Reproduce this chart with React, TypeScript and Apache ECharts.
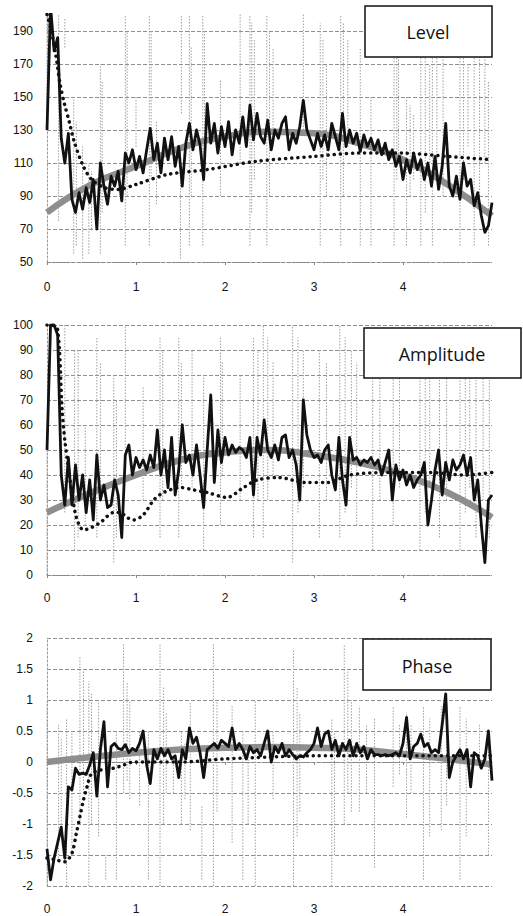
import React, { useEffect, useRef } from "react";
import * as echarts from "echarts";

const X_MAX = 5;
const X_LABELS = ["0", "1", "2", "3", "4"];

// Level panel
const levelNoisy = [130, 205, 178, 186, 125, 110, 128, 88, 80, 92, 82, 95, 86, 100, 70, 110, 96, 85, 102, 96, 105, 87, 116, 110, 118, 106, 114, 104, 118, 131, 112, 122, 104, 125, 112, 126, 108, 120, 96, 122, 134, 118, 130, 121, 100, 146, 122, 134, 116, 132, 120, 135, 115, 130, 122, 138, 120, 145, 124, 140, 126, 122, 136, 118, 130, 125, 134, 138, 118, 128, 122, 132, 148, 130, 124, 118, 128, 120, 127, 118, 134, 126, 118, 140, 120, 130, 122, 128, 117, 127, 120, 125, 118, 124, 115, 122, 112, 118, 108, 114, 100, 112, 104, 116, 106, 112, 100, 110, 96, 114, 94, 108, 134, 96, 90, 102, 88, 110, 96, 100, 84, 92, 78, 68, 72, 86];
const levelRawX = [0, 0.02, 0.13, 0.2, 0.3, 0.33, 0.4, 0.47, 0.5, 0.6, 0.62, 0.88, 0.9, 1.0, 1.15, 1.17, 1.23, 1.5, 1.51, 1.6, 1.62, 1.75, 1.77, 1.95, 2.17, 2.28, 2.3, 2.33, 2.47, 2.5, 2.54, 2.88, 3.07, 3.1, 3.14, 3.3, 3.33, 3.38, 3.52, 3.64, 3.9, 3.93, 3.95, 4.04, 4.08, 4.12, 4.2, 4.25, 4.3, 4.33, 4.38, 4.45, 4.64, 4.68, 4.73, 4.8, 4.86, 4.92, 4.96];
const levelRawLow = [130, 150, 75, 180, 55, 60, 52, 55, 70, 55, 80, 60, 90, 120, 60, 100, 85, 52, 140, 60, 90, 60, 100, 90, 110, 60, 80, 100, 60, 90, 120, 130, 60, 100, 90, 60, 90, 120, 60, 60, 60, 100, 110, 60, 90, 100, 60, 80, 110, 60, 100, 90, 60, 100, 120, 60, 90, 110, 60];
const levelRawHigh = [200, 200, 200, 198, 150, 135, 120, 110, 105, 170, 160, 200, 190, 150, 200, 190, 135, 120, 200, 200, 180, 200, 190, 160, 200, 200, 195, 185, 200, 190, 180, 200, 195, 185, 170, 200, 195, 185, 180, 150, 200, 190, 175, 150, 145, 140, 190, 180, 170, 200, 190, 185, 190, 180, 170, 190, 180, 175, 160];
const TREND_X = [0, 0.5, 1, 1.5, 2, 2.5, 3, 3.5, 4, 4.5, 5];
const levelTrend = [80, 97, 108, 119, 126, 129, 128, 122, 112, 97, 78];
const levelModelX = [0, 0.05, 0.1, 0.15, 0.2, 0.25, 0.3, 0.4, 0.5, 0.65, 0.8, 1, 1.35, 1.8, 2.35, 3, 3.5, 4, 4.5, 5];
const levelModel = [200, 190, 175, 157, 145, 135, 124, 109, 100, 95, 94, 97, 103, 106, 111, 114, 116, 116, 114, 112];

// Amplitude panel
const ampNoisy = [50, 100, 100, 96, 40, 28, 47, 28, 44, 30, 40, 25, 38, 22, 48, 30, 36, 27, 28, 38, 32, 15, 48, 52, 40, 47, 43, 46, 42, 48, 43, 58, 40, 50, 35, 55, 32, 42, 60, 45, 48, 40, 52, 40, 27, 50, 72, 37, 58, 45, 55, 48, 52, 49, 51, 50, 47, 55, 32, 55, 48, 62, 50, 47, 52, 46, 55, 56, 47, 50, 44, 30, 70, 56, 50, 47, 48, 45, 50, 52, 40, 34, 55, 38, 28, 55, 46, 47, 44, 46, 45, 47, 44, 46, 40, 45, 50, 30, 44, 38, 42, 36, 40, 35, 38, 40, 45, 20, 30, 42, 50, 32, 45, 38, 46, 42, 44, 48, 40, 47, 30, 38, 20, 5, 30, 32];
const ampRawX = [0, 0.2, 0.31, 0.35, 0.43, 0.56, 0.6, 0.75, 0.78, 0.88, 1.08, 1.27, 1.3, 1.48, 1.51, 1.63, 1.76, 1.95, 1.97, 2.17, 2.32, 2.37, 2.43, 2.48, 2.54, 2.76, 2.82, 2.88, 3.06, 3.14, 3.29, 3.35, 3.42, 3.48, 3.66, 3.74, 3.89, 3.96, 4.19, 4.25, 4.3, 4.41, 4.49, 4.64, 4.7, 4.75, 4.82, 4.9, 4.97];
const ampRawLow = [0, 25, 10, 15, 20, 15, 30, 5, 15, 40, 30, 15, 30, 15, 35, 35, 10, 20, 40, 30, 15, 30, 15, 30, 40, 5, 25, 35, 15, 30, 15, 25, 35, 20, 10, 30, 20, 35, 10, 25, 35, 15, 30, 10, 25, 35, 15, 30, 15];
const ampRawHigh = [50, 100, 90, 90, 60, 95, 85, 80, 70, 100, 75, 95, 90, 95, 85, 90, 80, 95, 85, 80, 95, 90, 100, 95, 85, 100, 95, 90, 90, 85, 100, 95, 90, 85, 95, 85, 95, 90, 90, 85, 80, 85, 80, 90, 85, 80, 90, 85, 80];
const ampTrend = [25, 33, 40, 46, 49, 50, 48, 45, 40, 33, 23];
const ampModelX = [0, 0.05, 0.12, 0.17, 0.2, 0.24, 0.28, 0.33, 0.41, 0.5, 0.6, 0.75, 0.82, 0.9, 0.97, 1.08, 1.2, 1.31, 1.5, 1.65, 1.8, 2.02, 2.21, 2.36, 2.6, 2.9, 3.15, 3.4, 3.8, 4.3, 4.7, 5];
const ampModel = [100, 100, 98, 66, 54, 43, 33, 23, 18, 19, 21, 25, 25, 23, 22, 24, 30, 33, 35, 34, 33, 31, 35, 38, 39, 37, 37, 40, 41, 41, 40, 41];

// Phase panel
const phaseNoisy = [-1.4, -1.9, -1.55, -1.3, -1.05, -1.55, -0.4, -0.45, -0.1, -0.2, -0.18, -0.2, -0.05, 0.15, -0.55, 0.2, 0.65, -0.4, 0.25, 0.3, 0.22, 0.2, 0.28, 0.15, 0.22, 0.18, 0.3, 0.5, -0.05, -0.35, 0.2, 0.05, 0.22, 0.1, 0.2, 0.05, 0.1, -0.25, 0.2, 0.05, 0.55, 0.3, 0.4, 0.15, -0.25, 0.2, 0.25, 0.3, 0.22, 0.35, 0.3, 0.25, 0.55, 0.2, 0.3, 0.2, 0.05, 0.25, 0.15, 0.2, 0.1, 0.3, 0.5, 0.0, 0.25, 0.15, 0.3, 0.1, 0.2, 0.12, 0.05, 0.1, 0.08, 0.15, 0.2, 0.3, 0.55, 0.25, 0.45, 0.5, 0.2, 0.35, 0.1, 0.3, 0.2, 0.35, 0.1, 0.3, 0.15, 0.25, 0.05, 0.2, 0.12, 0.12, 0.1, 0.12, 0.1, 0.12, 0.15, 0.1, 0.3, 0.72, 0.05, 0.25, 0.3, 0.45, 0.25, 0.3, 0.15, 0.2, 0.15, 0.6, 1.1, -0.25, 0.0, 0.1, 0.2, 0.05, 0.2, -0.4, 0.15, 0.1, -0.1, 0.05, 0.5, -0.3];
const phaseRawX = [0, 0.13, 0.16, 0.22, 0.28, 0.37, 0.41, 0.47, 0.5, 0.58, 0.66, 0.78, 0.86, 0.9, 0.93, 1.04, 1.14, 1.27, 1.31, 1.34, 1.42, 1.51, 1.55, 1.61, 1.74, 1.87, 1.91, 2.08, 2.2, 2.26, 2.34, 2.54, 2.77, 2.81, 2.84, 3.2, 3.23, 3.34, 3.38, 3.42, 3.51, 3.59, 3.68, 3.89, 3.96, 4.04, 4.09, 4.23, 4.3, 4.43, 4.49, 4.64, 4.71, 4.86, 4.96];
const phaseRawLow = [-2, -1.6, -1.2, -2, -1.5, -1.0, -0.5, -2, -1.0, -1.2, -1.9, -1.9, -0.5, -0.3, -0.6, -0.7, -1.9, -2, -1.0, -0.5, -0.5, -1.0, -0.6, -1.1, -1.9, -2, -0.8, -1.3, -1.9, -1.0, -2, -0.6, -2, -1.2, -0.8, -2, -1.5, -1.0, -0.5, -0.8, -0.8, -0.5, -1.7, -0.4, -0.2, -0.9, -0.5, -1.9, -1.2, -1.1, -0.7, -1.9, -1.2, -0.1, -1.5];
const phaseRawHigh = [1.0, 0.6, 0.4, 0.7, 0.5, 1.7, 1.5, 1.3, 1.1, 1.0, -1.5, 0.5, 1.9, 1.3, 1.0, 0.5, 0.5, 1.9, 1.2, 0.8, 0.1, 0.5, 0.3, 0.95, -0.7, 1.9, 1.0, 0.9, 0.5, 0.3, 1.0, 0.5, 1.8, 1.2, 0.8, 0.7, 0.5, 1.9, 1.5, 1.0, 0.9, 0.6, 0.7, 0.9, 0.6, 0.8, 0.6, 0.9, 0.7, 0.9, 0.6, 0.9, 0.7, 0.6, 0.5];
const phaseTrend = [0, 0.08, 0.15, 0.2, 0.23, 0.24, 0.23, 0.2, 0.13, 0.05, -0.04];
const phaseModelX = [0, 0.1, 0.2, 0.28, 0.33, 0.37, 0.41, 0.45, 0.5, 0.6, 0.75, 0.86, 0.97, 1.5, 2, 2.5, 3, 3.5, 4, 4.5, 5];
const phaseModel = [-1.55, -1.58, -1.61, -1.47, -1.15, -0.88, -0.61, -0.4, -0.19, -0.13, -0.1, -0.05, 0, 0, 0.05, 0.08, 0.1, 0.1, 0.1, 0.1, 0.1];

const PANEL_TITLES = ["Level", "Amplitude", "Phase"];
const Y_RANGES = [
  { min: 50, max: 200, interval: 20 },
  { min: 0, max: 100, interval: 10 },
  { min: -2, max: 2, interval: 0.5 },
];

const even = (ys: number[]) => ys.map((v, i) => [(i * X_MAX) / (ys.length - 1), v]);
const zipXY = (xs: number[], ys: number[]) => xs.map((x, i) => [x, ys[i]]);
const verticals = (xs: number[], lo: number[], hi: number[]) => {
  const out: any[] = [];
  xs.forEach((x, i) => {
    out.push([x, lo[i]], [x, hi[i]], [x, "-"]);
  });
  return out;
};

const GRIDS = [
  { left: 47, top: 14.5, width: 445, height: 247.5 },
  { left: 47, top: 325, width: 445, height: 250 },
  { left: 47, top: 638, width: 445, height: 248 },
];
const LABEL_MARGINS = [19, 17, 17];
const BOXES = [
  { x: 365, y: 6, w: 127, h: 51, tx: 428, ty: 32 },
  { x: 364, y: 328, w: 157, h: 50, tx: 442, ty: 354 },
  { x: 363, y: 639, w: 128, h: 51, tx: 427, ty: 666 },
];

const AXIS_FONT = { fontFamily: "Liberation Sans, Arial, sans-serif", fontSize: 12, color: "#111" };

function buildOption() {
  const panels = [
    { noisy: levelNoisy, rx: levelRawX, rl: levelRawLow, rh: levelRawHigh, trend: levelTrend, mx: levelModelX, m: levelModel },
    { noisy: ampNoisy, rx: ampRawX, rl: ampRawLow, rh: ampRawHigh, trend: ampTrend, mx: ampModelX, m: ampModel },
    { noisy: phaseNoisy, rx: phaseRawX, rl: phaseRawLow, rh: phaseRawHigh, trend: phaseTrend, mx: phaseModelX, m: phaseModel },
  ];
  const series: any[] = [];
  panels.forEach((p, i) => {
    const base = { type: "line", xAxisIndex: i, yAxisIndex: i, symbol: "none", silent: true, clip: true };
    series.push({ ...base, data: verticals(p.rx, p.rl, p.rh), connectNulls: false, z: 1, lineStyle: { color: "#a0a0a0", width: 1, type: [1.5, 1.5] } });
    series.push({ ...base, data: zipXY(TREND_X, p.trend), smooth: true, z: 2, lineStyle: { color: "#8e8e8e", width: 6.5 } });
    series.push({ ...base, data: even(p.noisy), z: 3, lineStyle: { color: "#111", width: 2.8, join: "round" } });
    series.push({ ...base, data: zipXY(p.mx, p.m), smooth: 0.3, z: 4, lineStyle: { color: "#111", width: 3.5, type: [0.1, 6], cap: "round" } });
  });

  const graphic: any[] = [];
  BOXES.forEach((b, i) => {
    graphic.push({
      type: "rect",
      z: 100,
      shape: { x: b.x, y: b.y, width: b.w, height: b.h },
      style: { fill: "#fff", stroke: "#111", lineWidth: 1.5 },
    });
    graphic.push({
      type: "text",
      z: 101,
      x: b.tx,
      y: b.ty,
      style: {
        text: PANEL_TITLES[i],
        font: '18px "Open Sans", "Noto Sans", sans-serif',
        fill: "#111",
        align: "center",
        verticalAlign: "middle",
        textAlign: "center",
        textVerticalAlign: "middle",
      },
    });
  });

  return {
    animation: false,
    backgroundColor: "#fff",
    grid: GRIDS.map((g) => ({ ...g, containLabel: false })),
    xAxis: GRIDS.map((_, i) => ({
      type: "value",
      gridIndex: i,
      min: 0,
      max: X_MAX,
      interval: 1,
      axisLine: { show: true, lineStyle: { color: "#888", type: [3, 2], width: 1 } },
      axisTick: { show: true, length: 3, lineStyle: { color: "#888" } },
      splitLine: { show: false },
      axisLabel: {
        ...AXIS_FONT,
        margin: LABEL_MARGINS[i],
        showMaxLabel: false,
        formatter: (v: number) => X_LABELS[Math.round(v)] ?? "",
      },
    })),
    yAxis: Y_RANGES.map((r, i) => ({
      type: "value",
      gridIndex: i,
      min: r.min,
      max: r.max,
      interval: r.interval,
      axisLine: { show: true, lineStyle: { color: "#999", type: [2, 2], width: 1 } },
      axisTick: { show: false },
      axisLabel: { ...AXIS_FONT, margin: 14, showMaxLabel: i !== 0 },
      splitLine: {
        show: true,
        showMaxLine: i !== 0,
        lineStyle: { color: "#8f8f8f", type: [4, 2], width: 1 },
      },
    })),
    series,
    graphic,
  };
}

export default function App() {
  const ref = useRef<HTMLDivElement>(null);
  useEffect(() => {
    if (!ref.current) return;
    const chart = echarts.init(ref.current, null, { renderer: "svg", width: 523, height: 916 });
    chart.setOption(buildOption() as any);
    return () => chart.dispose();
  }, []);
  return (
    <div
      ref={ref}
      style={{ position: "absolute", left: 0, top: 0, width: 523, height: 916, background: "#fff" }}
    />
  );
}
